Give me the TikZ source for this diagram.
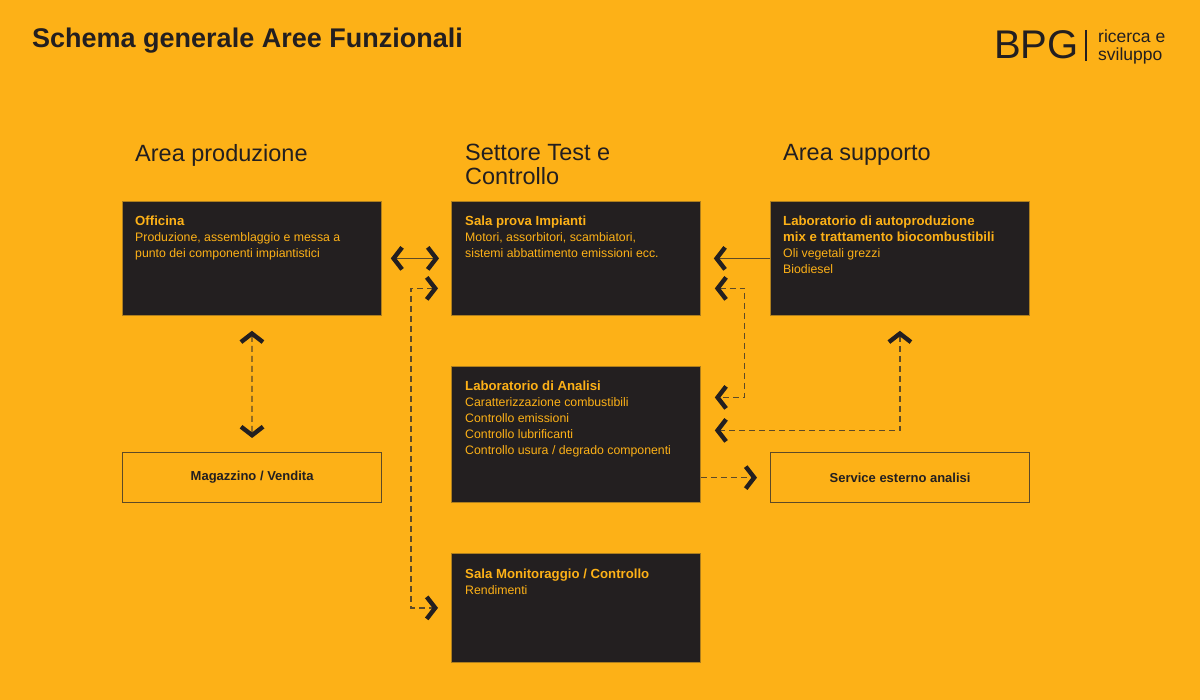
\documentclass[tikz,border=0pt]{standalone}
\usepackage{fontspec}
\setmainfont{Liberation Sans}
\usetikzlibrary{positioning,arrows.meta}
\definecolor{bpgorange}{HTML}{FDB117}
\definecolor{bpgdark}{HTML}{231F20}
\definecolor{bpgline}{HTML}{5E4A26}
\newcommand{\boxhead}[1]{{\fontsize{13.2}{16}\selectfont\bfseries #1}}
\begin{document}
\begin{tikzpicture}[x=1pt,y=-1pt,
	chev/.tip={Straight Barb[length=8.5pt,width=22pt,line width=4.4pt 0 1,color=bpgdark]},
	darkbox/.style={draw=bpgline!50!bpgorange,line width=0.8pt,fill=bpgdark,anchor=north west,inner sep=0},
	linebox/.style={draw=bpgline,line width=1.2pt,anchor=north west,inner sep=0,text=bpgdark,
		font=\fontsize{13}{16}\selectfont\bfseries},
	boxtext/.style={text=bpgorange,font=\fontsize{12.3}{16}\selectfont,align=left,inner sep=0},
	heading/.style={text=bpgdark,font=\fontsize{23.5}{24}\selectfont,align=left,inner sep=0,anchor=north west},
	link/.style={draw=bpgline,line width=1.2pt},
	dashlink/.style={link,dash pattern=on 6pt off 4pt}]
\fill[bpgorange] (0,0) rectangle (1200,700);
\node[heading,font=\fontsize{27}{30}\selectfont\bfseries] (title) at (32,28) {Schema generale Aree Funzionali};
\node[heading,font=\fontsize{40}{40}\selectfont] (bpg) at (994,30) {BPG};
\draw[bpgdark,line width=1.3pt] (1086,30) -- (1086,61);
\node[heading,font=\fontsize{17.5}{18}\selectfont] (rs) at (1098,30) {ricerca e\\sviluppo};
\node[heading] (hprod) at (135,144) {Area produzione};
\node[heading] (htest) at (465,144) {Settore Test e\\Controllo};
\node[heading] (hsupp) at (783,144) {Area supporto};
\node[darkbox,minimum width=259pt,minimum height=114pt] (officina) at (122,201) {};
\node[darkbox,minimum width=249pt,minimum height=114pt] (salaprova) at (451,201) {};
\node[darkbox,minimum width=259pt,minimum height=114pt] (labauto) at (770,201) {};
\node[darkbox,minimum width=249pt,minimum height=136pt] (analisi) at (451,366) {};
\node[darkbox,minimum width=249pt,minimum height=109pt] (monitor) at (451,553) {};
\node[linebox,minimum width=259pt,minimum height=50pt] (magazzino) at (122,452) {Magazzino / Vendita};
\node[linebox,minimum width=259pt,minimum height=50pt] (service) at (770,452) {Service esterno analisi};
\node[boxtext,below right=15pt and 13pt of officina.north west] {\boxhead{Officina}\\Produzione, assemblaggio e messa a\\punto dei componenti impiantistici};
\node[boxtext,below right=15pt and 14pt of salaprova.north west] {\boxhead{Sala prova Impianti}\\Motori, assorbitori, scambiatori,\\sistemi abbattimento emissioni ecc.};
\node[boxtext,below right=15pt and 13pt of labauto.north west] {\boxhead{Laboratorio di autoproduzione}\\\boxhead{mix e trattamento biocombustibili}\\Oli vegetali grezzi\\Biodiesel};
\node[boxtext,below right=15pt and 14pt of analisi.north west] {\boxhead{Laboratorio di Analisi}\\Caratterizzazione combustibili\\Controllo emissioni\\Controllo lubrificanti\\Controllo usura / degrado componenti};
\node[boxtext,below right=16pt and 14pt of monitor.north west] {\boxhead{Sala Monitoraggio / Controllo}\\Rendimenti};
\draw[link,chev-chev,shorten <=9pt,shorten >=12pt] (officina.east) -- (salaprova.west);
\draw[link,-chev,shorten >=13pt] (labauto.west) -- (salaprova.east);
\draw[dashlink,chev-chev,shorten <=13pt,shorten >=13pt] ([yshift=-30pt]salaprova.west) -- ++(-40,0) |- (monitor.west);
\draw[dashlink,chev-chev,shorten <=14pt,shorten >=14pt] ([yshift=-30pt]salaprova.east) -- ++(44,0) |- ([yshift=37pt]analisi.east);
\draw[dashlink,chev-chev,shorten <=15pt,shorten >=14pt] (labauto.south) |- ([yshift=4pt]analisi.east);
\draw[dashlink,-chev,shorten >=13pt] (analisi.east |- service.west) -- (service.west);
\draw[dashlink,chev-chev,shorten <=15pt,shorten >=14pt] (officina.south) -- (magazzino.north);
\end{tikzpicture}
\end{document}
